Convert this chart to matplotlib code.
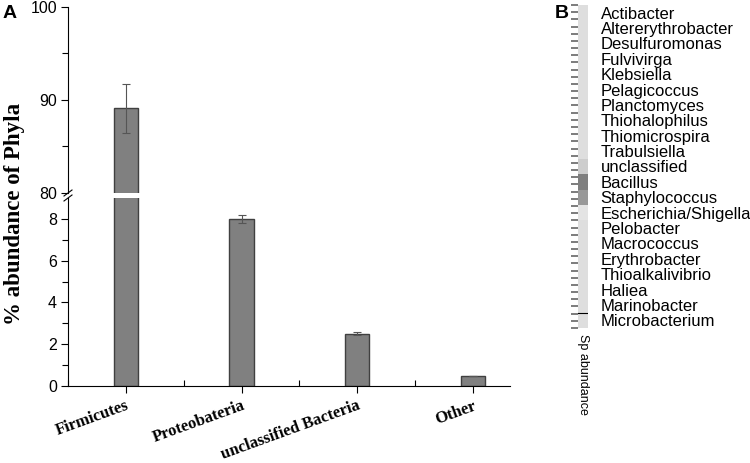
import matplotlib.pyplot as plt
from matplotlib.colors import LinearSegmentedColormap
import numpy as np

phyla = ['Firmicutes', 'Proteobateria', 'unclassified Bacteria', 'Other']
abundance = [89.1, 8.0, 2.5, 0.5]
abundance_err = [2.6, 0.2, 0.08, 0.0]

species = ['Actibacter', 'Altererythrobacter', 'Desulfuromonas', 'Fulvivirga',
           'Klebsiella', 'Pelagicoccus', 'Planctomyces', 'Thiohalophilus',
           'Thiomicrospira', 'Trabulsiella', 'unclassified', 'Bacillus',
           'Staphylococcus', 'Escherichia/Shigella', 'Pelobacter', 'Macrococcus',
           'Erythrobacter', 'Thioalkalivibrio', 'Haliea', 'Marinobacter',
           'Microbacterium']
sp_abundance = [0.6, 0.6, 0.6, 0.6, 0.6, 0.6, 0.6, 0.6, 0.6, 0.6, 1.5, 5.5,
                4.2, 0.3, 0.6, 0.6, 0.6, 0.6, 0.6, 0.6, 0.6]

W, H = 750, 463
fig = plt.figure(figsize=(7.5, 4.63), dpi=100)

def box(x0, y0, x1, y1):
    return [x0 / W, 1 - y1 / H, (x1 - x0) / W, (y1 - y0) / H]

ax_top = fig.add_axes(box(68, 7, 510, 193))
ax_bot = fig.add_axes(box(68, 198, 510, 386))

x = np.arange(1, len(phyla) + 1)
for ax in (ax_top, ax_bot):
    ax.bar(x, abundance, width=0.21, color='#808080', edgecolor='#404040',
           linewidth=1.0, zorder=2)
    ax.errorbar(x, abundance, yerr=abundance_err, fmt='none', ecolor='#555555',
                elinewidth=0.8, capsize=3, capthick=0.8, zorder=3)
    ax.set_xlim(0.5, 4.32)
    ax.spines['right'].set_visible(False)
    ax.spines['top'].set_visible(False)
    ax.tick_params(axis='y', direction='out', length=5, width=0.8,
                   labelsize=11.5, pad=3)
    ax.tick_params(axis='y', which='minor', direction='out', length=4, width=0.8)

ax_top.set_ylim(80, 100)
ax_top.set_yticks([80, 90, 100])
ax_top.set_yticks([85, 95], minor=True)
ax_top.spines['bottom'].set_visible(False)
ax_top.tick_params(axis='x', which='both', bottom=False, labelbottom=False)

ax_bot.set_ylim(0, 9)
ax_bot.set_yticks([0, 2, 4, 6, 8])
ax_bot.set_yticks([1, 3, 5, 7], minor=True)
ax_bot.set_xticks(x)
ax_bot.set_xticks([0.5, 1.5, 2.5, 3.5], minor=True)
ax_bot.tick_params(axis='x', which='major', direction='out', length=5, width=0.8)
ax_bot.tick_params(axis='x', which='minor', direction='in', length=4, width=0.8)
ax_bot.set_xticklabels(phyla, rotation=20, ha='right', rotation_mode='anchor',
                       family='Liberation Serif', fontweight='bold', fontsize=12)
for lab in ax_top.get_yticklabels() + ax_bot.get_yticklabels():
    lab.set_family('Liberation Sans')

# break marks on the y axis
for yy in (193, 198):
    fig.add_artist(plt.Line2D([64 / W, 72 / W], [1 - (yy + 3) / H, 1 - (yy - 3) / H],
                              color='black', lw=0.8))

fig.text(15 / W, 1 - 214 / H, '% abundance of Phyla', rotation=90, ha='center',
         va='center', family='Liberation Serif', fontweight='bold', fontsize=16.5)
fig.text(3 / W, 1 - 13 / H, 'A', family='Liberation Sans', fontweight='bold',
         fontsize=14, ha='left', va='center')
fig.text(555 / W, 1 - 13 / H, 'B', family='Liberation Sans', fontweight='bold',
         fontsize=14, ha='left', va='center')

# panel B heatmap strip
grey_map = LinearSegmentedColormap.from_list('gm', ['#eaeaea', '#636363'])
ax_h = fig.add_axes(box(578, 5, 588, 328))
vals = np.array(sp_abundance).reshape(-1, 1)
ax_h.imshow(vals, cmap=grey_map, vmin=0, vmax=7, aspect='auto',
            interpolation='nearest')
ax_h.axhline(len(species) - 1.5, color='black', lw=0.8)
ax_h.set_xticks([])
ax_h.set_yticks(np.arange(len(species)))
ax_h.set_yticklabels(species, family='Liberation Sans', fontsize=12)
ax_h.yaxis.tick_right()
ax_h.tick_params(axis='y', length=0, pad=9)
ax_h.set_yticks(np.linspace(-0.5, len(species) - 0.5, 46), minor=True)
ax_h.tick_params(axis='y', which='minor', left=True, right=False, length=5,
                 width=1.2, color='#666666', pad=2)
for sp in ax_h.spines.values():
    sp.set_visible(False)
ax_h.set_xlabel('Sp abundance', rotation=-90, family='Liberation Sans',
                fontsize=9)
ax_h.xaxis.set_label_coords(0.5, -0.02)
ax_h.xaxis.label.set_va('top')

fig.savefig('out.png', dpi=100)
